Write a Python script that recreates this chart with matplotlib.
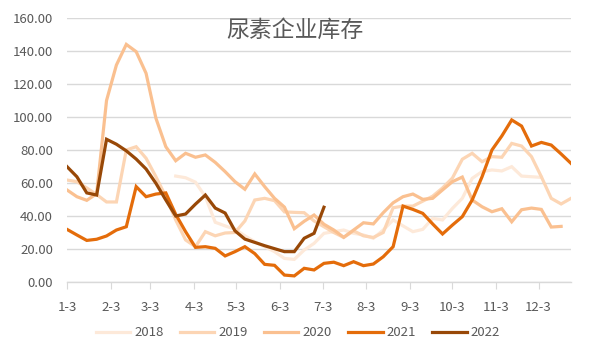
import numpy as np
import matplotlib.pyplot as plt
from datetime import date

# 尿素企业库存，周度数据（万吨）
weeks = np.arange(52)
nan = np.nan

y2018 = [nan] * 11 + [64.2, 63.2, 60.5, 51.7, 36.2, 34, 32, 28, 24.4, 21.4,
                      18.4, 14.3, 13.7, 19.4, 23.4, 29.5, 30.5, 31.5, 29.5, 28.5,
                      26.5, 31.5, 37.6, 34, 30.5, 31.9, 38.6, 37.6, 44.6, 50.7,
                      62.8, 66.9, 67.9, 67.3, 69.9, 64.2, 63.8, 63.4, nan, nan, nan]
y2019 = [61.8, 60.8, 57, 53, 48.5, 48.5, 80, 82, 75, 63.8,
         51.7, 37.6, 25.5, 21.4, 30.5, 28, 29.7, 30, 37, 49.7,
         50.7, 49.3, 42.5, 42.2, 42, 37, 33.5, 30, 27, 31,
         28, 27, 30, 45, 46, 46, 49, 52, 57, 63,
         74.4, 78, 72.9, 76, 75.6, 84, 82.4, 76, 63.8, 50.7,
         47.3, 50.7]
y2020 = [55.8, 51.7, 49.5, 53.5, 110, 131.5, 144, 139.6, 126.5, 99.2,
         82, 73.5, 78, 75.6, 77, 72.5, 66.9, 60.8, 56.2, 65.5,
         57.8, 50.7, 45.4, 32.3, 36.8, 40.6, 35, 31.5, 27.1, 31.5,
         35.9, 35.2, 42, 48, 51.7, 53.3, 50.1, 50.7, 55.8, 60.8,
         63.6, 49.7, 45.6, 42.6, 44.4, 36.5, 43.8, 44.8, 44, 33.3,
         33.7, nan]
y2021 = [31.9, 28.5, 25.2, 25.9, 27.9, 31.5, 33.5, 57.8, 51.7, 53.3,
         54, 41, 30.5, 21, 21.4, 20.4, 15.8, 18.4, 21.4, 17.2,
         10.7, 10.1, 4.2, 3.7, 8.3, 7.3, 11.3, 12, 9.9, 12.3,
         9.9, 10.9, 15.3, 21.4, 46, 44, 41.6, 35.2, 29.1, 34.5,
         39.6, 49.7, 63.8, 80, 88.5, 98.2, 94.5, 82.4, 84.6, 83,
         77.6, 71.9]
y2022 = [69.9, 63.8, 54, 52.7, 86.5, 83.5, 79.5, 74.5, 68.5, 59.8,
         49.7, 40, 41.2, 47.2, 52.7, 44.8, 41.8, 31, 26, 24,
         22, 20.2, 18.4, 18.4, 26.5, 29.5, 45.3]

years = ['2018', '2019', '2020', '2021', '2022']
series = [y2018, y2019, y2020, y2021, y2022]
colors = ['#FDE9D9', '#FCD5B4', '#FAC090', '#E46C0A', '#984807']

month_labels = ['{}-3'.format(m) for m in range(1, 13)]
month_pos = [(date(2021, m, 3) - date(2021, 1, 3)).days / 7 for m in range(1, 13)]

plt.rcParams['font.family'] = ['Noto Sans CJK SC', 'DejaVu Sans']

fig = plt.figure(figsize=(5.9, 3.6), dpi=100)
ax = fig.add_axes([67 / 590, 1 - 282 / 360, 504 / 590, 264 / 360])

for name, ys, c in zip(years, series, colors):
    ys = np.array(ys, dtype=float)
    ax.plot(weeks[:len(ys)], ys, color=c, lw=2.3, label=name,
            solid_joinstyle='miter')

ax.set_xlim(0, 51)
ax.set_ylim(0, 160)
ax.set_yticks(np.arange(0, 161, 20))
ax.set_yticklabels(['{:.2f}'.format(v) for v in np.arange(0, 161, 20)])
ax.set_xticks(month_pos)
ax.set_xticklabels(month_labels)

ax.grid(axis='y', color='#D9D9D9', lw=1)
ax.set_axisbelow(True)
for s in ['left', 'right', 'top']:
    ax.spines[s].set_visible(False)
ax.spines['bottom'].set_color('#D9D9D9')
ax.spines['bottom'].set_linewidth(1)
ax.tick_params(axis='y', length=0, pad=10, labelsize=9.5, labelcolor='#595959')
ax.tick_params(axis='x', length=5, color='#D9D9D9', pad=9, labelsize=9.5,
               labelcolor='#595959')

fig.text(0.5, 1 - 30 / 360, '尿素企业库存', ha='center', va='center',
         fontsize=16.5, color='#595959')

fig.legend(loc='center', bbox_to_anchor=(0.505, 1 - 333 / 360), ncol=5,
           frameon=False, fontsize=9.5, handlelength=2.6, handletextpad=0.3,
           columnspacing=1.25, labelcolor='#595959')

fig.savefig('out.png', dpi=100)
